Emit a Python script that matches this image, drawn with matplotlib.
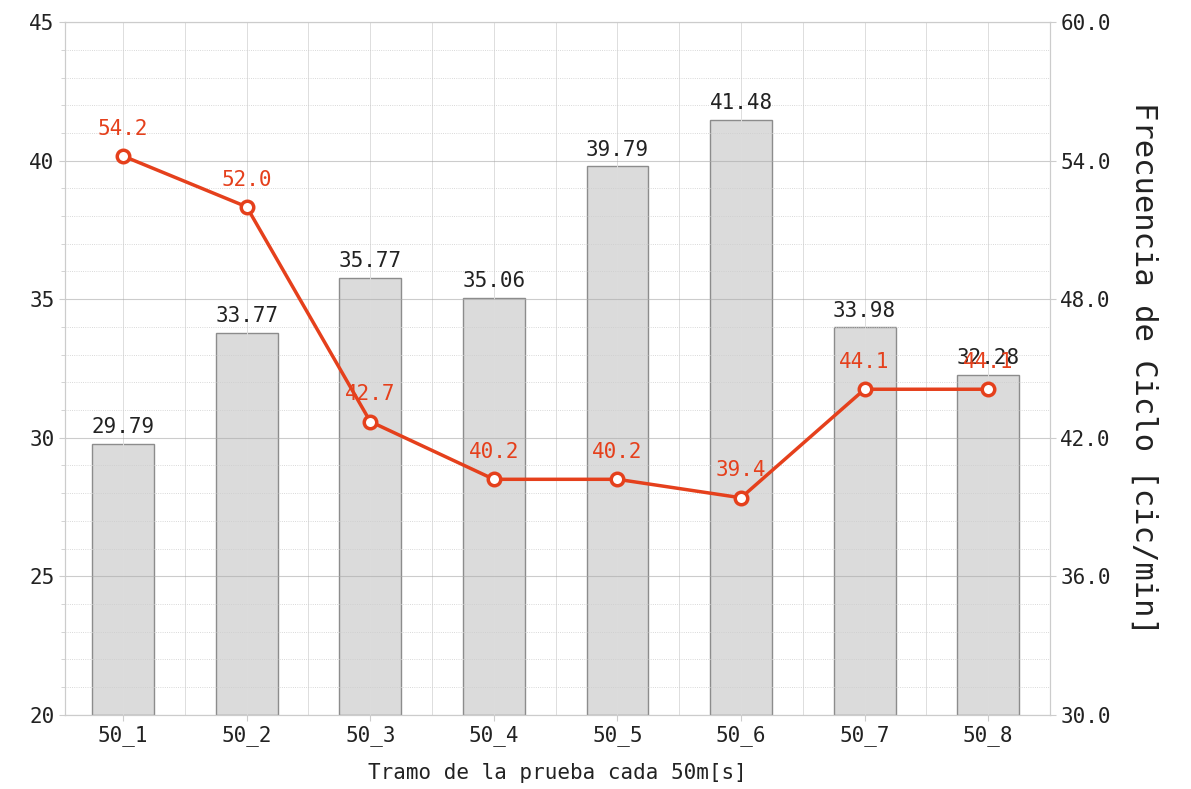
import matplotlib.pyplot as plt
import numpy as np
from matplotlib.ticker import MultipleLocator, FormatStrFormatter

plt.rcParams['font.family'] = 'DejaVu Sans Mono'

tramos = ["50_1", "50_2", "50_3", "50_4", "50_5", "50_6", "50_7", "50_8"]
tiempos = [29.79, 33.77, 35.77, 35.06, 39.79, 41.48, 33.98, 32.28]
frecuencia = [54.2, 52.0, 42.7, 40.2, 40.2, 39.4, 44.1, 44.1]

red = '#e5401c'
x = np.arange(len(tramos))

fig = plt.figure(figsize=(11.91, 7.89), dpi=100)
ax = fig.add_axes([0.0546, 0.094, 0.827, 0.878])

ax.bar(x, [t - 20 for t in tiempos], bottom=20, width=0.5,
       color='#dbdbdb', edgecolor='#8c8c8c', linewidth=1.0, zorder=1)
for xi, t in zip(x, tiempos):
    ax.text(xi, t + 0.25, f"{t:.2f}", ha='center', va='bottom',
            fontsize=15, color='#222222', zorder=5)

ax.set_xlim(-0.47, 7.5)
ax.set_ylim(20, 45)
ax.yaxis.set_major_locator(MultipleLocator(5))
ax.yaxis.set_minor_locator(MultipleLocator(1))
ax.set_xticks(x)
ax.set_xticklabels(tramos)
ax.set_xticks(x + 0.5, minor=True)
ax.grid(which='major', axis='y', color='#aaaaaa', linewidth=0.8, alpha=0.6, zorder=2)
ax.grid(which='minor', axis='y', color='#cccccc', linewidth=0.6, linestyle=':', zorder=0)
ax.grid(which='both', axis='x', color='#dddddd', linewidth=0.7, zorder=0)
ax.set_axisbelow(False)
ax.tick_params(labelsize=15, colors='#222222', length=4, color='#cccccc')
ax.tick_params(which='minor', length=3, color='#cccccc')
ax.tick_params(axis='x', which='minor', length=0)
ax.set_xlabel("Tramo de la prueba cada 50m[s]", fontsize=15, color='#222222', labelpad=12)
for s in ax.spines.values():
    s.set_color('#cccccc')

ax2 = ax.twinx()
ax2.set_ylim(30, 60)
ax2.yaxis.set_major_locator(MultipleLocator(6))
ax2.yaxis.set_major_formatter(FormatStrFormatter('%.1f'))
ax2.tick_params(labelsize=15, colors='#222222', length=4, color='#cccccc')
for s in ax2.spines.values():
    s.set_color('#cccccc')
ax2.plot(x, frecuencia, color=red, linewidth=2.5, marker='o', markersize=9,
         markerfacecolor='white', markeredgecolor=red, markeredgewidth=2.5, zorder=3)
for xi, f in zip(x, frecuencia):
    ax2.text(xi, f + 0.75, f"{f:.1f}", ha='center', va='bottom',
             fontsize=15, color=red, zorder=6)
ax2.set_ylabel("Frecuencia de Ciclo [cic/min]", fontsize=22, color='#222222',
               rotation=270, labelpad=34)

fig.savefig("out.png", dpi=100)
